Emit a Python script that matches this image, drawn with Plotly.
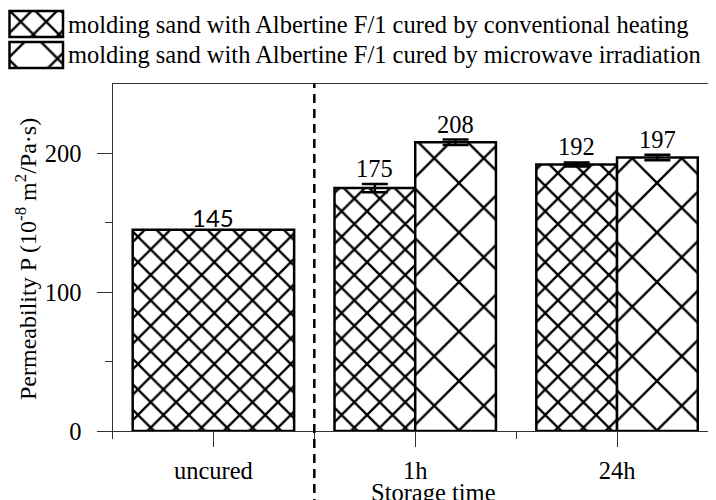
import plotly.graph_objects as go

# ---- data ----
categories = ["uncured", "1h", "24h"]
conventional = [145, 175, 192]
microwave = [None, 208, 197]
conv_err = [None, 3, 1.5]
micro_err = [None, 2, 2]
legend_labels = [
    "molding sand with Albertine F/1 cured by conventional heating",
    "molding sand with Albertine F/1 cured by microwave irradiation",
]
y_ticks = [0, 100, 200]
y_minor = [50, 150]
y_title = "Permeability P (10<sup>-8</sup> m<sup>2</sup>/Pa·s)"
x_title = "Storage time"

# ---- style ----
W, H = 716, 500
OFF = 8  # page body margin


def sx(px):
    return (px - OFF) / W


def sy(py):
    return (H + OFF - py) / H


SERIF = "Liberation Serif"
FS = 24.5
conv_pat = dict(shape="x", size=18, solidity=0.24, fgcolor="#000000", bgcolor="#ffffff",
                fgopacity=1, fillmode="replace")
micro_pat = dict(shape="x", size=35, solidity=0.13, fgcolor="#000000", bgcolor="#ffffff",
                 fgopacity=1, fillmode="replace")
outline = dict(color="black", width=2.5)
err_style = dict(type="data", color="black", thickness=2.5, width=13, visible=True)

idx = list(range(len(categories)))
pair_off = 0.2

fig = go.Figure()

# uncured: single wide bar
fig.add_trace(go.Bar(
    x=[idx[0]], y=[conventional[0]], width=0.8,
    marker=dict(pattern=conv_pat, line=outline, color="white"),
    showlegend=False, hoverinfo="skip"))

# conventional heating
fig.add_trace(go.Bar(
    x=[i - pair_off for i in idx[1:]], y=conventional[1:], width=0.4,
    marker=dict(pattern=conv_pat, line=outline, color="white"),
    error_y=dict(array=conv_err[1:], **err_style),
    showlegend=False, name=legend_labels[0]))

# microwave irradiation
fig.add_trace(go.Bar(
    x=[i + pair_off for i in idx[1:]], y=microwave[1:], width=0.4,
    marker=dict(pattern=micro_pat, line=outline, color="white"),
    error_y=dict(array=micro_err[1:], **err_style),
    showlegend=False, name=legend_labels[1]))

# legend swatches (drawn on a small helper axis)
fig.add_trace(go.Bar(x=[1], y=[1], base=0, orientation="h", width=0.84,
                     marker=dict(pattern=conv_pat, line=dict(color="black", width=2.5), color="white"),
                     xaxis="x2", yaxis="y2", showlegend=False, hoverinfo="skip"))
fig.add_trace(go.Bar(x=[1], y=[0], base=0, orientation="h", width=0.84,
                     marker=dict(pattern=micro_pat, line=dict(color="black", width=2.5), color="white"),
                     xaxis="x2", yaxis="y2", showlegend=False, hoverinfo="skip"))

annotations = []
for lab, yy in zip(legend_labels, [sy(24), sy(55)]):
    annotations.append(dict(text=lab, xref="paper", yref="paper", x=sx(66), y=yy,
                            xanchor="left", yanchor="middle", showarrow=False,
                            font=dict(family=SERIF, size=FS, color="black")))

# value labels
annotations.append(dict(text=str(conventional[0]), x=idx[0], y=conventional[0],
                        xref="x", yref="y", yanchor="bottom", showarrow=False, yshift=-4,
                        font=dict(family="Lato", size=24, color="black")))
for i, v, e in zip(idx[1:], conventional[1:], conv_err[1:]):
    annotations.append(dict(text=str(v), x=i - pair_off, y=v + e, xref="x", yref="y",
                            yanchor="bottom", showarrow=False, yshift=0,
                            font=dict(family=SERIF, size=FS, color="black")))
for i, v, e in zip(idx[1:], microwave[1:], micro_err[1:]):
    annotations.append(dict(text=str(v), x=i + pair_off, y=v + e, xref="x", yref="y",
                            yanchor="bottom", showarrow=False, yshift=0,
                            font=dict(family=SERIF, size=FS, color="black")))

# axis titles
annotations.append(dict(text=y_title, xref="paper", yref="paper", x=18 / W, y=0.498,
                        textangle=-90, showarrow=False, xanchor="center", yanchor="middle",
                        font=dict(family=SERIF, size=24, color="black")))
annotations.append(dict(text=x_title, xref="paper", yref="paper", x=sx(434), y=sy(492),
                        showarrow=False, xanchor="center", yanchor="middle",
                        font=dict(family=SERIF, size=FS, color="black")))

fig.update_layout(
    width=W, height=H,
    margin=dict(l=0, r=0, t=0, b=0),
    paper_bgcolor="white", plot_bgcolor="white",
    barmode="overlay",
    font=dict(family=SERIF, size=FS, color="black"),
    xaxis=dict(domain=[sx(112.5), 1], range=[-0.5, 2.53], tickvals=idx, ticktext=categories,
               ticks="outside", ticklen=15, tickwidth=1, tickcolor="#333",
               showline=True, linecolor="#333", linewidth=1, mirror=True,
               minor=dict(tickvals=[-0.5, 0.5, 1.5], ticks="outside", ticklen=7,
                          tickwidth=1, tickcolor="#333"),
               showgrid=False, zeroline=False, anchor="y", ticklabelstandoff=3,
               tickfont=dict(family=SERIF, size=FS, color="black"), automargin=False),
    yaxis=dict(domain=[sy(431), sy(84)], range=[0, 250], tickvals=y_ticks,
               ticks="outside", ticklen=15, tickwidth=1, tickcolor="#333",
               showline=True, linecolor="#333", linewidth=1,
               minor=dict(tickvals=y_minor, ticks="outside", ticklen=7,
                          tickwidth=1, tickcolor="#333"),
               showgrid=False, zeroline=False, anchor="x", ticklabelstandoff=10,
               tickfont=dict(family=SERIF, size=FS, color="black"), automargin=False),
    xaxis2=dict(domain=[0, sx(66)], range=[-0.028, 1.056], visible=False,
                anchor="y2", fixedrange=True),
    yaxis2=dict(domain=[0.876, 0.998], range=[-0.484, 1.484], visible=False,
                anchor="x2", fixedrange=True),
    shapes=[dict(type="line", xref="x", yref="paper", x0=0.5, x1=0.5, y0=0, y1=sy(84),
                 line=dict(color="black", width=2.5, dash="9px,6px"))],
    annotations=annotations,
)

fig.write_html("out.html")
